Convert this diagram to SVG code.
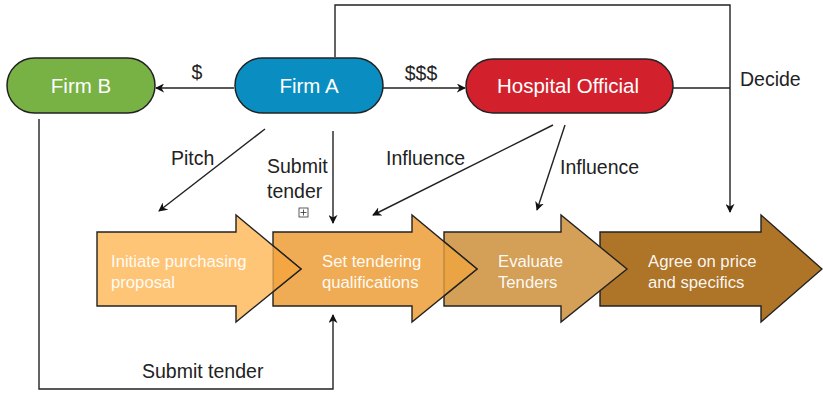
<svg xmlns="http://www.w3.org/2000/svg" width="823" height="395" viewBox="0 0 823 395">
<defs>
<marker id="ah" viewBox="0 0 10 10" refX="9" refY="5" markerWidth="9" markerHeight="9" orient="auto" markerUnits="userSpaceOnUse"><path d="M0,0 L10,5 L0,10 L3,5 Z" fill="#111"/></marker>
</defs>
<style>
.node{stroke:#222;stroke-width:1.5}
.nt{font-family:"Liberation Sans",Arial,sans-serif;font-size:20.5px;fill:#fff;text-anchor:middle}
.lbl{font-family:"Liberation Sans",Arial,sans-serif;font-size:19.5px;fill:#222}
.conn{fill:none;stroke:#222;stroke-width:1.4}
.chev{stroke:#222;stroke-width:1.4}
.ov{stroke:#222;stroke-width:1.4;stroke-linejoin:miter}
.ct{font-family:"Liberation Sans",Arial,sans-serif;font-size:16.7px;fill:#fff;fill-opacity:0.95}
</style>
<rect width="823" height="395" fill="#fff"/>

<g id="stage4"><path class="chev" d="M600,232 H761 V215 L822,269 L761,322 V306 H600 Z" fill="#ae7428"/><text class="ct" x="648" y="267">Agree on price</text><text class="ct" x="648" y="288">and specifics</text></g>
<g id="stage3"><path class="chev" d="M444,232 H561 V215 L627,269 L561,322 V306 H444 Z" fill="#d4a058"/><text class="ct" x="498" y="267">Evaluate</text><text class="ct" x="498" y="288">Tenders</text></g>
<g id="stage2"><path class="chev" d="M273,232 H412 V215 L477,269 L412,322 V306 H273 Z" fill="#f0ac54"/><text class="ct" x="322" y="267">Set tendering</text><text class="ct" x="322" y="288">qualifications</text></g>
<g id="stage1"><path class="chev" d="M97,232 H236 V215 L301,269 L236,322 V306 H97 Z" fill="#fec576"/><text class="ct" x="111" y="267">Initiate purchasing</text><text class="ct" x="111" y="288">proposal</text></g>
<g id="overlaps">
<path d="M273,245.7 L301,269 L273,291.8 Z" fill="#f4a642"/>
<path d="M273,245.7 L301,269 L273,291.8" class="ov" fill="none"/>
<line x1="273" y1="245.7" x2="273" y2="291.8" stroke="#222" stroke-width="1" stroke-opacity="0.35"/>
<path d="M444,241.6 L477,269 L444,295.9 Z" fill="#eba444"/>
<path d="M444,241.6 L477,269 L444,295.9" class="ov" fill="none"/>
<line x1="444" y1="241.6" x2="444" y2="295.9" stroke="#222" stroke-width="1" stroke-opacity="0.35"/>
</g>

<g id="connectors">
<line class="conn" x1="234" y1="88" x2="156" y2="88" marker-end="url(#ah)"/>
<line class="conn" x1="383" y1="88" x2="465" y2="88" marker-end="url(#ah)"/>
<polyline class="conn" points="335,57 335,5 730,5 730,212" marker-end="url(#ah)"/>
<line class="conn" x1="673" y1="88" x2="730" y2="88"/>
<polyline class="conn" points="39,119 39,389 333,389 333,315" marker-end="url(#ah)"/>
<line class="conn" x1="265" y1="129" x2="159" y2="211" marker-end="url(#ah)"/>
<line class="conn" x1="333" y1="131" x2="333" y2="223" marker-end="url(#ah)"/>
<line class="conn" x1="553" y1="125" x2="373" y2="215" marker-end="url(#ah)"/>
<line class="conn" x1="565" y1="125" x2="537" y2="210" marker-end="url(#ah)"/>
<text class="lbl" x="197" y="79" text-anchor="middle">$</text>
<text class="lbl" x="421" y="80" text-anchor="middle">$$$</text>
<text class="lbl" x="740" y="86">Decide</text>
<text class="lbl" x="171" y="165">Pitch</text>
<text class="lbl" x="267" y="173">Submit</text>
<text class="lbl" x="267" y="198">tender</text>
<g><rect x="299" y="208" width="9" height="9" fill="#fff" stroke="#333" stroke-width="0.8"/><path d="M300.5,212.5 H306.5 M303.5,209.5 V215.5" stroke="#333" stroke-width="0.8"/></g>
<text class="lbl" x="386" y="165">Influence</text>
<text class="lbl" x="560" y="174">Influence</text>
<text class="lbl" x="142" y="378">Submit tender</text>
</g>

<g id="firmB"><rect class="node" x="7" y="58" width="148" height="55" rx="27.5" fill="#78b144"/><text class="nt" x="81" y="93">Firm B</text></g>
<g id="firmA"><rect class="node" x="235" y="58" width="148" height="55" rx="27.5" fill="#0a8ec1"/><text class="nt" x="309" y="93">Firm A</text></g>
<g id="hospital"><rect class="node" x="466" y="59" width="207" height="54" rx="27" fill="#d2212c"/><text class="nt" x="568" y="93">Hospital Official</text></g>
</svg>
